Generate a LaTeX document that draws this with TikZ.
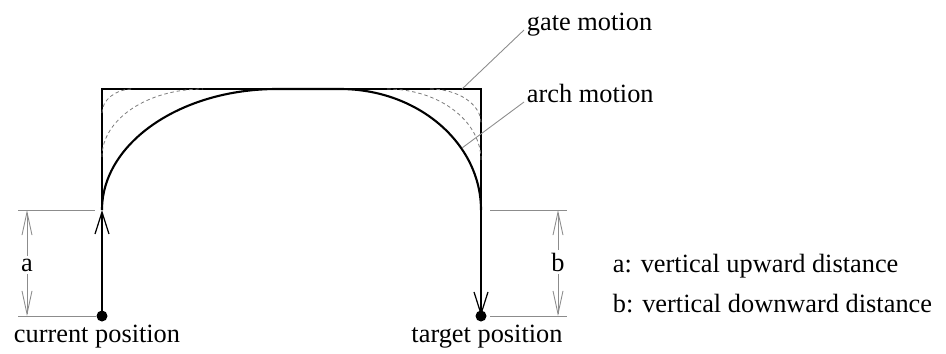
\documentclass[tikz,border=0pt]{standalone}
\usepackage{fontspec}
\setmainfont{Liberation Serif}
\usetikzlibrary{arrows.meta}
\definecolor{cInk}{HTML}{000000}
\definecolor{cLead}{HTML}{8C8C8C}
\definecolor{cTrial}{HTML}{7A7A7A}
\tikzset{
  gate/.style={draw=cInk, line width=0.7pt},
  arch/.style={draw=cInk, line width=1.2pt},
  trial/.style={draw=cTrial, line width=0.45pt, dash pattern=on 2pt off 1.6pt},
  leader/.style={draw=cLead, line width=0.5pt},
  dimline/.style={draw=cLead, line width=0.5pt},
  dimtip/.style={dimline, -{Straight Barb[length=4.6mm, width=2mm]}},
  motiontip/.style={-{Straight Barb[length=4.4mm, width=2.8mm]}},
  spot/.style={circle, fill=cInk, inner sep=0pt, minimum size=2.2mm},
  txt/.style={inner sep=1.5pt, font=\fontsize{15}{18}\selectfont, text=cInk},
}

\begin{document}
\begin{tikzpicture}[x=0.02cm, y=0.02cm]
  \useasboundingbox (0,0) rectangle (946,353);
  % start and end points
  \node[spot] (cur) at (102,37) {};
  \node[spot] (tgt) at (481,37) {};
  \node[txt, anchor=base] (curlbl) at (97,11) {current position};
  \node[txt, anchor=base] (tgtlbl) at (487,11) {target position};
  \coordinate (lift) at (102,143);
  \coordinate (drop) at (481,143);
  \coordinate (gtl) at (102,264);
  \coordinate (gtr) at (481,264);
  % gate motion
  \draw[gate, motiontip] (cur.center) -- (lift);
  \draw[gate] (lift) -- (gtl) -- (gtr) -- (drop);
  \draw[gate, motiontip] (drop) -- (tgt.center);
  % intermediate paths
  \draw[trial] (102,240) arc[start angle=180, end angle=90, x radius=31, y radius=24];
  \draw[trial] (102,196) arc[start angle=180, end angle=90, x radius=101, y radius=68];
  \draw[trial] (387,264) arc[start angle=90, end angle=0, x radius=94, y radius=71];
  \draw[trial] (430,264) arc[start angle=90, end angle=0, x radius=51, y radius=34];
  % arch motion
  \draw[arch] (lift) arc[start angle=180, end angle=90, x radius=175, y radius=121]
    -- (340,264) arc[start angle=90, end angle=0, x radius=141, y radius=121];
  % labels with leaders
  \node[txt, anchor=base west] (gatelbl) at (524,323) {gate motion};
  \node[txt, anchor=base west] (archlbl) at (524,251) {arch motion};
  \coordinate (gatehit) at (462,264);
  \coordinate (archhit) at (462,205);
  \draw[leader] (gatehit) -- (gatelbl.base west);
  \draw[leader] (archhit) -- (archlbl.base west);
  % distance a
  \coordinate (aend1) at (18,143);
  \coordinate (aend2) at (95,143);
  \coordinate (aend3) at (18,37);
  \draw[dimline] (aend1) -- (aend2);
  \draw[dimline] (aend3) -- (cur);
  \node[txt, anchor=base] (dima) at (27,82) {a};
  \coordinate (aup) at (27,143);
  \coordinate (adn) at (27,37);
  \draw[dimtip] (dima) -- (aup);
  \draw[dimtip] (dima) -- (adn);
  % distance b
  \coordinate (bend1) at (490,143);
  \coordinate (bend2) at (567,143);
  \coordinate (bend3) at (490,37);
  \coordinate (bend4) at (567,37);
  \draw[dimline] (bend1) -- (bend2);
  \draw[dimline] (bend3) -- (bend4);
  \node[txt, anchor=base] (dimb) at (558,82) {b};
  \coordinate (bup) at (558,143);
  \coordinate (bdn) at (558,37);
  \draw[dimtip] (dimb) -- (bup);
  \draw[dimtip] (dimb) -- (bdn);
  % key
  \node[txt, anchor=base west] (keya) at (610,81) {a: vertical upward distance};
  \node[txt, anchor=base west] (keyb) at (610,41) {b: vertical downward distance};
\end{tikzpicture}
\end{document}
